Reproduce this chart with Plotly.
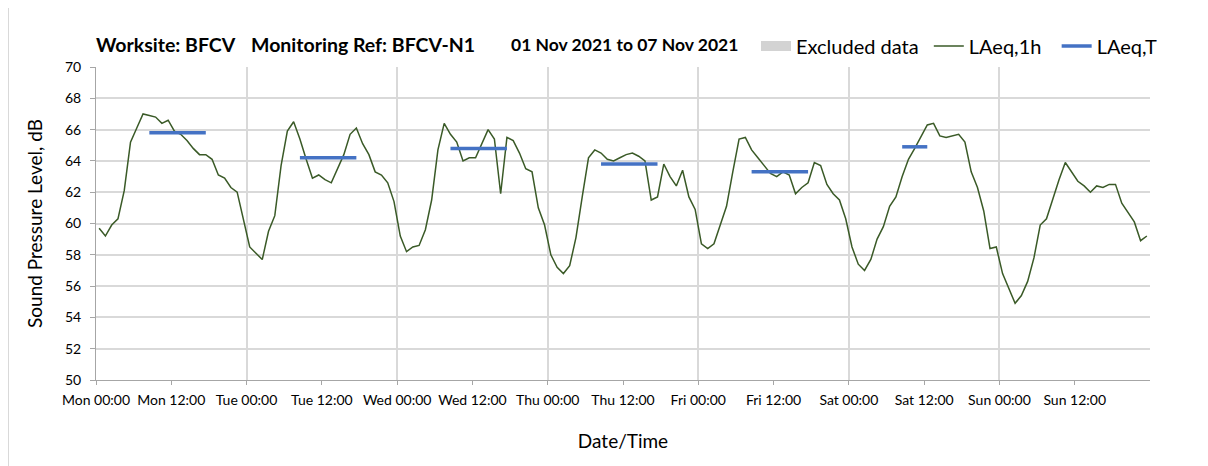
import plotly.graph_objects as go

# ---------------- data ----------------
days = ["Mon", "Tue", "Wed", "Thu", "Fri", "Sat", "Sun"]
tick_times = ["00:00", "12:00"]

# hourly LAeq,1h values (dB), 168 hours from Mon 00:00
laeq_1h = [
    59.7, 59.2, 59.9, 60.3, 62.1, 65.2, 66.1, 67.0, 66.9, 66.8, 66.4, 66.6,
    65.9, 65.7, 65.3, 64.8, 64.4, 64.4, 64.1, 63.1, 62.9, 62.3, 62.0, 60.2,
    58.5, 58.1, 57.7, 59.5, 60.5, 63.7, 65.9, 66.5, 65.4, 64.1, 62.9, 63.1,
    62.8, 62.6, 63.5, 64.4, 65.7, 66.1, 65.1, 64.4, 63.3, 63.1, 62.6, 61.4,
    59.2, 58.2, 58.5, 58.6, 59.6, 61.5, 64.7, 66.4, 65.7, 65.2, 64.0, 64.2,
    64.2, 65.1, 66.0, 65.4, 61.9, 65.5, 65.3, 64.5, 63.5, 63.3, 61.0, 59.9,
    58.0, 57.2, 56.8, 57.3, 59.1, 61.7, 64.2, 64.7, 64.5, 64.1, 64.0, 64.2,
    64.4, 64.5, 64.3, 64.0, 61.5, 61.7, 63.8, 63.0, 62.4, 63.4, 61.7, 60.9,
    58.7, 58.4, 58.7, 59.9, 61.1, 63.3, 65.4, 65.5, 64.7, 64.2, 63.7, 63.2,
    63.0, 63.3, 63.1, 61.9, 62.3, 62.6, 63.9, 63.7, 62.5, 61.9, 61.5, 60.3,
    58.5, 57.4, 57.0, 57.7, 59.0, 59.8, 61.1, 61.7, 63.0, 64.1, 64.8, 65.6,
    66.3, 66.4, 65.6, 65.5, 65.6, 65.7, 65.2, 63.3, 62.3, 60.8, 58.4, 58.5,
    56.8, 55.8, 54.9, 55.4, 56.3, 57.8, 59.9, 60.3, 61.6, 62.8, 63.9, 63.3,
    62.7, 62.4, 62.0, 62.4, 62.3, 62.5, 62.5, 61.3, 60.7, 60.1, 58.9, 59.2,
]

# LAeq,T working-period values: first and last hour index of each period
lt_first_hour = [8, 32, 56, 80, 104, 128]
lt_last_hour = [17, 41, 65, 89, 113, 132]
lt_values = [65.8, 64.2, 64.8, 63.8, 63.3, 64.9]

# ---------------- build ----------------
hours = [h + 0.5 for h in range(len(laeq_1h))]

lt_x, lt_y = [], []
for a, b, v in zip(lt_first_hour, lt_last_hour, lt_values):
    lt_x += [a + 0.5, b + 0.5, None]
    lt_y += [v, v, None]

tickvals = [12 * k for k in range(14)]
ticktext = [f"{d} {t}" for d in days for t in tick_times]

FONT = "Lato, 'Open Sans', sans-serif"
GRID = "#d9d9d9"
AXIS = "#a6a6a6"
NB = "\u00a0"

fig = go.Figure()
fig.add_trace(go.Scatter(x=[None], y=[None], mode="lines", name="Excluded data" + NB,
                         line=dict(color="#d3d3d3", width=12), xaxis="x2"))
fig.add_trace(go.Scatter(x=hours, y=laeq_1h, mode="lines", name="LAeq,1h" + NB * 2,
                         line=dict(color="#3a5a27", width=1.5)))
fig.add_trace(go.Scatter(x=lt_x, y=lt_y, mode="lines", name="LAeq,T",
                         line=dict(color="#4472c4", width=3.5),
                         connectgaps=False))

# page has an 8px body margin: figure is placed at (8, 8)
OFF = 8
W, H = 1200, 458
PL, PT, PR, PB = 96, 67, 1150, 380          # plot area in page pixels
L, T = PL - OFF, PT - OFF
R, B = W - (PR - OFF), H - (PB - OFF)
pw, ph = W - L - R, H - T - B

def px(x):
    return (x - OFF - L) / pw

def py(y):
    return (H - B - (y - OFF)) / ph

fig.update_layout(
    width=W, height=H,
    margin=dict(l=L, r=R, t=T, b=B, autoexpand=False),
    paper_bgcolor="white", plot_bgcolor="white",
    font=dict(family=FONT, color="#000000"),
    showlegend=True,
    legend=dict(orientation="h", x=px(756), xanchor="left", y=py(46), yanchor="middle",
                font=dict(size=20, family=FONT), itemwidth=30,
                bgcolor="rgba(0,0,0,0)", traceorder="normal"),
    xaxis=dict(range=[0, 168], tickmode="array", tickvals=tickvals, ticktext=ticktext,
               showgrid=False, zeroline=False, showline=True, linecolor=AXIS, linewidth=1,
               ticks="outside", ticklen=4, tickcolor=AXIS, ticklabelstandoff=3,
               tickfont=dict(size=14, family=FONT),
               title=dict(text="Date/Time", font=dict(size=19, family=FONT), standoff=27)),
    xaxis2=dict(range=[0, 168], overlaying="x", tick0=0, dtick=24,
                showgrid=True, gridcolor=GRID, gridwidth=1.5,
                showticklabels=False, ticks="", zeroline=False, showline=False),
    yaxis=dict(range=[50, 70], dtick=2, showgrid=True, gridcolor=GRID, gridwidth=1.5,
               zeroline=False, showline=True, linecolor=AXIS, linewidth=1,
               ticks="outside", ticklen=5, tickcolor=AXIS, ticklabelstandoff=6,
               tickfont=dict(size=14, family=FONT),
               title=dict(text="Sound Pressure Level, dB", font=dict(size=19, family=FONT),
                          standoff=17)),
)

# title parts
title_parts = [("Worksite: BFCV", 94, 19.5), ("Monitoring Ref: BFCV-N1", 249, 19.5),
               ("01 Nov 2021 to 07 Nov 2021", 509, 17.5)]
for txt, xpos, fs in title_parts:
    fig.add_annotation(text=f"<b>{txt}</b>", xref="paper", yref="paper",
                       x=px(xpos), y=py(44), xanchor="left", yanchor="middle",
                       showarrow=False, font=dict(size=fs, family=FONT, color="#000000"))

# outer chart border (only the side edges fall inside the page)
fig.add_shape(type="rect", xref="paper", yref="paper",
              x0=px(OFF + 0.5), x1=px(1202), y0=py(480), y1=py(-10),
              line=dict(color="#d9d9d9", width=1), fillcolor="rgba(0,0,0,0)", layer="below")

fig.write_html("out.html")
